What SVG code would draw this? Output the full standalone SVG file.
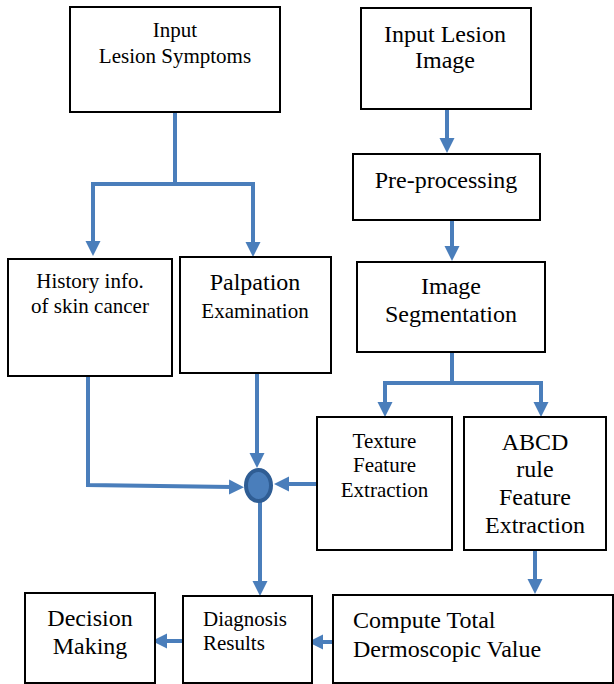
<svg xmlns="http://www.w3.org/2000/svg" width="614" height="684" viewBox="0 0 614 684">
<style>
.box{fill:#fff;stroke:#000;stroke-width:2}
.t{fill:#000;text-anchor:middle}
.l{text-anchor:start}
.s21{font-size:21px}
.s24{font-size:24px}
.c{fill:none;stroke:#4a7ebb;stroke-width:4;marker-end:url(#ah)}
</style>
<defs>
<marker id="ah" markerUnits="userSpaceOnUse" markerWidth="16" markerHeight="16" refX="3" refY="7.5" orient="auto">
<path d="M0,0 L15,7.5 L0,15 z" fill="#4a7ebb"/>
</marker>
</defs>
<rect width="614" height="684" fill="#fff"/>
<g id="connectors">
<path class="c" d="M175,112 V184 H93 V244"/>
<path class="c" d="M175,184 H253 V245"/>
<path class="c" d="M447,109 V141"/>
<path class="c" d="M452,220 V249"/>
<path class="c" d="M452,352 V383 H385 V405"/>
<path class="c" d="M452,383 H541 V405"/>
<path class="c" d="M88,376 V485 L232,487"/>
<path class="c" d="M257,374 V456"/>
<path class="c" d="M317,484 H286"/>
<path class="c" d="M260,500 V584"/>
<path class="c" d="M535,550 V582"/>
<path class="c" d="M333,642 H320"/>
<path class="c" d="M183,641 H164"/>
</g>
<g id="junction">
<ellipse cx="258.5" cy="485.5" rx="12.5" ry="15.5" fill="#4a7ebb" stroke="#2f5d94" stroke-width="4"/>
</g>
<g font-family="'Liberation Serif', 'Times New Roman', 'DejaVu Serif', serif">
<g id="input-symptoms">
<rect class="box" x="70" y="7" width="210" height="105"/>
<text class="t s21" x="175" y="37">Input</text>
<text class="t s21" x="175" y="63">Lesion Symptoms</text>
</g>
<g id="input-image">
<rect class="box" x="361" y="8" width="170" height="101"/>
<text class="t s24" x="445" y="42">Input Lesion</text>
<text class="t s24" x="445" y="68">Image</text>
</g>
<g id="preprocessing">
<rect class="box" x="353" y="154" width="187" height="66"/>
<text class="t s24" x="446" y="188">Pre-processing</text>
</g>
<g id="segmentation">
<rect class="box" x="357" y="262" width="188" height="90"/>
<text class="t s24" x="451" y="294">Image</text>
<text class="t s24" x="451" y="322">Segmentation</text>
</g>
<g id="history">
<rect class="box" x="8" y="259" width="164" height="117"/>
<text class="t s21" x="90" y="288">History info.</text>
<text class="t s21" x="90" y="313">of skin cancer</text>
</g>
<g id="palpation">
<rect class="box" x="180" y="257" width="151" height="116"/>
<text class="t s24" x="255" y="290">Palpation</text>
<text class="t s21" x="255" y="318">Examination</text>
</g>
<g id="texture">
<rect class="box" x="317" y="417" width="135" height="133"/>
<text class="t s21" x="384.5" y="448">Texture</text>
<text class="t s21" x="384.5" y="472">Feature</text>
<text class="t s21" x="384.5" y="497">Extraction</text>
</g>
<g id="abcd">
<rect class="box" x="464" y="417" width="142" height="133"/>
<text class="t s24" x="535" y="450">ABCD</text>
<text class="t s24" x="535" y="477">rule</text>
<text class="t s24" x="535" y="505">Feature</text>
<text class="t s24" x="535" y="533">Extraction</text>
</g>
<g id="compute">
<rect class="box" x="333" y="595" width="280" height="88"/>
<text class="t l s24" x="353" y="628">Compute Total</text>
<text class="t l s24" x="353" y="657">Dermoscopic Value</text>
</g>
<g id="diagnosis">
<rect class="box" x="183" y="596" width="129" height="87"/>
<text class="t l s21" x="203" y="626">Diagnosis</text>
<text class="t l s21" x="203" y="650">Results</text>
</g>
<g id="decision">
<rect class="box" x="25" y="593" width="130" height="90"/>
<text class="t s24" x="90" y="626">Decision</text>
<text class="t s24" x="90" y="654">Making</text>
</g>
</g>
</svg>
